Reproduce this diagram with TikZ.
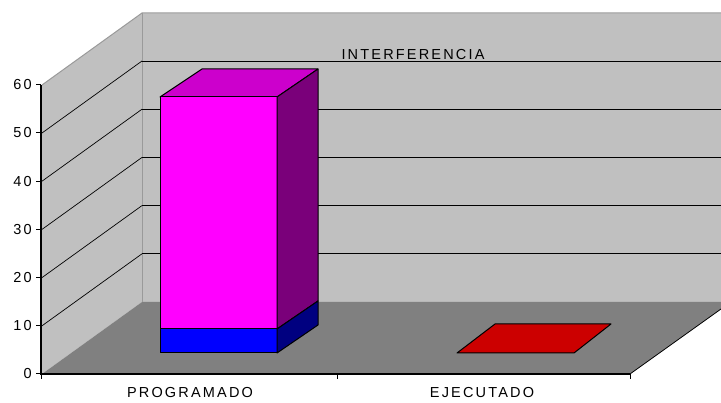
\documentclass[tikz,border=0pt]{standalone}
\usepackage{fontspec}
\newfontfamily\lblfont[LetterSpace=15]{Liberation Sans}
\definecolor{wall}{HTML}{C0C0C0}
\definecolor{floorc}{HTML}{808080}
\definecolor{edgec}{HTML}{9A9A9A}
\definecolor{magfront}{HTML}{FF00FF}
\definecolor{magtop}{HTML}{CC00CC}
\definecolor{magside}{HTML}{7A007A}
\definecolor{bluefront}{HTML}{0000FF}
\definecolor{blueside}{HTML}{000080}
\definecolor{redc}{HTML}{CC0000}
\tikzset{
  lbl/.style={font=\lblfont\fontsize{14.5}{16}\selectfont, inner sep=0pt, text=black},
  ticklbl/.style={lbl, anchor=east},
  grid/.style={black, line width=0.9pt},
  sidegrid/.style={black, line width=0.7pt},
  face/.style={draw=black, line width=1pt, line join=round},
}
\begin{document}
\begin{tikzpicture}[x=1pt,y=-1pt]
\useasboundingbox (0,0) rectangle (721,403);
\fill[white] (0,0) rectangle (721,403);
% walls
\fill[wall] (142,13) rectangle (721,302);
\fill[wall] (42,85) -- (142,13) -- (142,302) -- (42,374) -- cycle;
% floor
\fill[floorc] (42,374) -- (142,302) -- (721,302) -- (721,309) -- (630,374) -- cycle;
% wall edges
\draw[edgec, line width=1pt] (42,85) -- (142,13) -- (721,13);
\draw[edgec, line width=0.8pt] (142,13) -- (142,302);
% gridlines
\foreach \k in {1,...,5} {
  \draw[grid] (142,{302-48.2*\k}) -- (721,{302-48.2*\k});
  \draw[sidegrid] (42,{374-48.2*\k}) -- (142,{302-48.2*\k});
}
% title
\node[lbl, anchor=base] (title) at (413,60) {INTERFERENCIA};
% bar PROGRAMADO
\filldraw[face, fill=magtop] (160,97) -- (277,97) -- (318,69) -- (202,69) -- cycle;
\filldraw[face, fill=magfront] (160,97) rectangle (277,329);
\filldraw[face, fill=bluefront] (160,329) rectangle (277,353);
\filldraw[face, fill=magside] (277,97) -- (318,69) -- (318,301) -- (277,329) -- cycle;
\filldraw[face, fill=blueside] (277,329) -- (318,301) -- (318,325) -- (277,353) -- cycle;
% bar EJECUTADO
\filldraw[face, fill=redc] (457,353) -- (574,353) -- (611,324) -- (495,324) -- cycle;
% floor right edge
\draw[black, line width=0.8pt] (630,374) -- (721,309);
% axes
\coordinate (ytop) at (41,85);
\coordinate (orig) at (41,374);
\coordinate (xend) at (630,374);
\draw[black, line width=1.2pt] (ytop) -- (orig) -- (xend);
\foreach \v [count=\i from 0] in {0,10,20,30,40,50,60} {
  \draw[black, line width=1pt] (36,{374-48.2*\i}) -- (41,{374-48.2*\i});
  \node[ticklbl] (t\v) at (32,{374-48.2*\i}) {\v};
}
\draw[black, line width=1pt] (41,374) -- (41,379);
\draw[black, line width=1pt] (337,374) -- (337,379);
\draw[black, line width=1pt] (630,374) -- (630,379);
% category labels
\node[lbl, anchor=base] (cat1) at (190,398) {PROGRAMADO};
\node[lbl, anchor=base] (cat2) at (482,398) {EJECUTADO};
\end{tikzpicture}
\end{document}
